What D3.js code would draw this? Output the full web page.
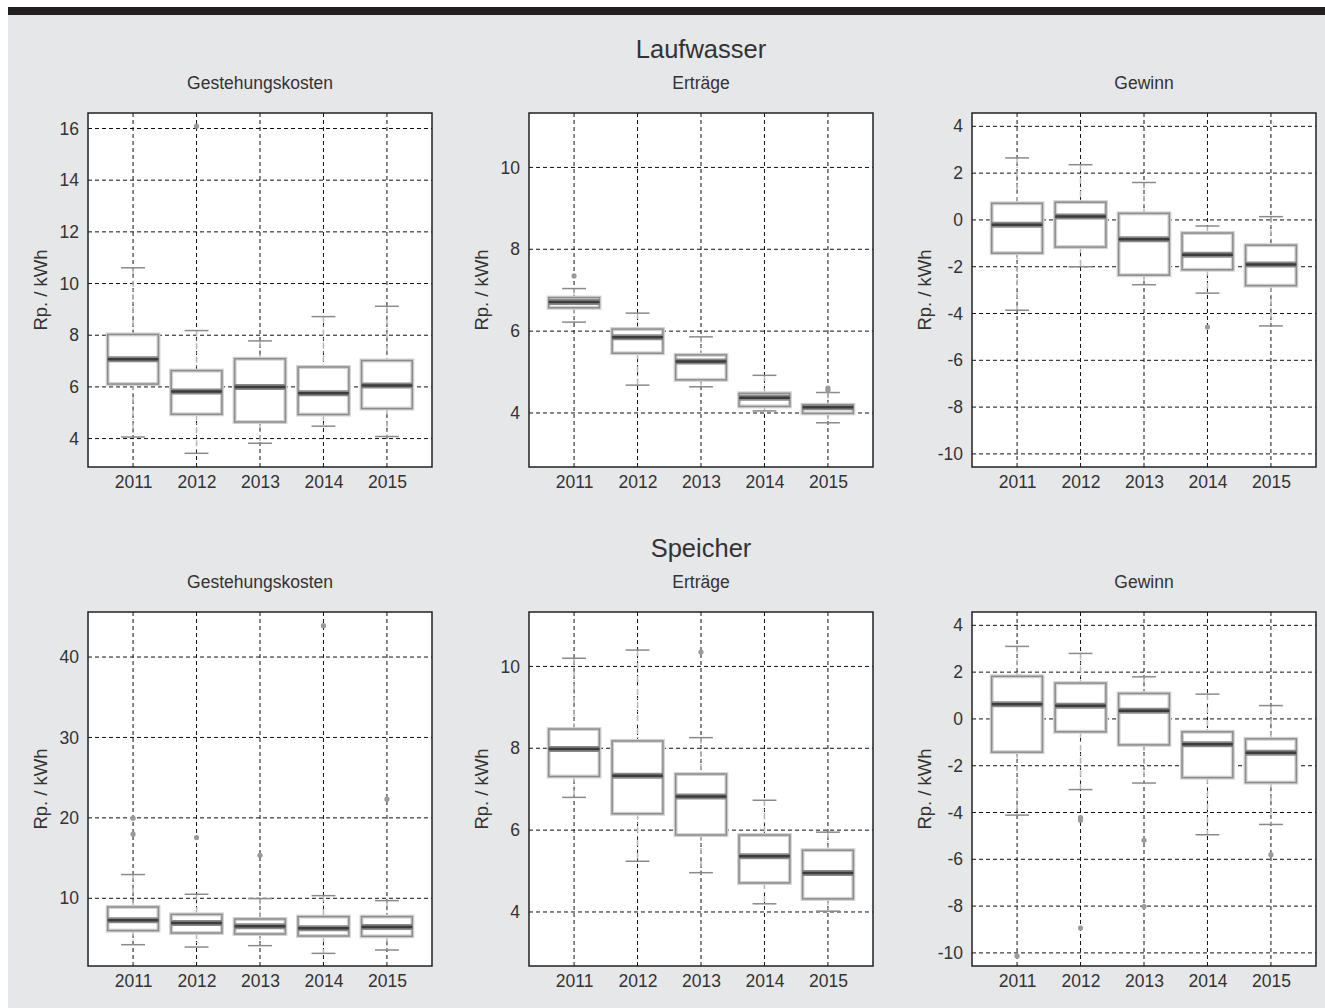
<!DOCTYPE html>
<html>
<head>
<meta charset="utf-8">
<script src="https://cdn.jsdelivr.net/npm/d3@7"></script>
<style>
  body { margin: 0; background: #fff; }
  svg text { font-family: "Liberation Sans", Arial, sans-serif; fill: #333; }
</style>
</head>
<body>
<div id="chart"></div>
<script>
const years = ['2011', '2012', '2013', '2014', '2015'];

// [lower whisker, q1, median, q3, upper whisker]
const laufKosten = [[4.06, 6.11, 7.07, 8.03, 10.61], [3.43, 4.94, 5.82, 6.63, 8.18], [3.82, 4.64, 6.0, 7.09, 7.78], [4.48, 4.93, 5.75, 6.77, 8.72], [4.08, 5.16, 6.05, 7.02, 9.12]];
const laufKostenOut = [[], [16.09], [], [], []];
const laufErtrag = [[6.22, 6.57, 6.71, 6.82, 7.04], [4.68, 5.46, 5.85, 6.05, 6.44], [4.64, 4.81, 5.26, 5.42, 5.86], [4.05, 4.16, 4.37, 4.48, 4.92], [3.76, 3.99, 4.14, 4.20, 4.50]];
const laufErtragOut = [[7.35], [], [], [], [4.61, 4.55]];
const laufGewinn = [[-3.86, -1.42, -0.21, 0.71, 2.65], [-2.0, -1.16, 0.15, 0.76, 2.36], [-2.77, -2.36, -0.83, 0.28, 1.60], [-3.13, -2.13, -1.49, -0.56, -0.26], [-4.53, -2.81, -1.90, -1.08, 0.14]];
const laufGewinnOut = [[], [], [], [-4.58], []];

const speichKosten = [[4.23, 5.98, 7.26, 8.92, 12.95], [3.94, 5.68, 6.93, 8.0, 10.5], [4.11, 5.56, 6.51, 7.43, 9.96], [3.15, 5.31, 6.27, 7.72, 10.33], [3.57, 5.27, 6.43, 7.72, 9.71]];
const speichKostenOut = [[19.96, 17.97], [17.55], [15.35], [43.9], [22.32]];
const speichErtrag = [[6.80, 7.31, 7.98, 8.47, 10.20], [5.24, 6.40, 7.33, 8.18, 10.40], [4.96, 5.88, 6.82, 7.37, 8.26], [4.20, 4.71, 5.36, 5.88, 6.73], [4.02, 4.32, 4.95, 5.51, 5.95]];
const speichErtragOut = [[], [], [10.35], [], []];
const speichGewinn = [[-4.11, -1.42, 0.63, 1.82, 3.10], [-3.02, -0.55, 0.56, 1.53, 2.80], [-2.74, -1.11, 0.35, 1.09, 1.80], [-4.95, -2.51, -1.08, -0.55, 1.06], [-4.51, -2.72, -1.45, -0.85, 0.57]];
const speichGewinnOut = [[-10.13], [-4.22, -4.33, -8.94], [-5.19, -8.02], [], [-5.80]];

const groupTitles = ['Laufwasser', 'Speicher'];
const panelTitles = ['Gestehungskosten', 'Erträge', 'Gewinn'];
const yLabel = 'Rp. / kWh';

const domKosten1 = [2.9, 16.6], ticksKosten1 = [4, 6, 8, 10, 12, 14, 16];
const domErtrag = [2.68, 11.33], ticksErtrag = [4, 6, 8, 10];
const domGewinn = [-10.56, 4.57], ticksGewinn = [-10, -8, -6, -4, -2, 0, 2, 4];
const domKosten2 = [1.58, 45.6], ticksKosten2 = [10, 20, 30, 40];

const panels = [
    {row: 0, col: 0, stats: laufKosten, out: laufKostenOut, dom: domKosten1, ticks: ticksKosten1},
    {row: 0, col: 1, stats: laufErtrag, out: laufErtragOut, dom: domErtrag, ticks: ticksErtrag},
    {row: 0, col: 2, stats: laufGewinn, out: laufGewinnOut, dom: domGewinn, ticks: ticksGewinn},
    {row: 1, col: 0, stats: speichKosten, out: speichKostenOut, dom: domKosten2, ticks: ticksKosten2},
    {row: 1, col: 1, stats: speichErtrag, out: speichErtragOut, dom: domErtrag, ticks: ticksErtrag},
    {row: 1, col: 2, stats: speichGewinn, out: speichGewinnOut, dom: domGewinn, ticks: ticksGewinn},
];

const width = 1325, height = 1008;
const colX = [88, 529, 972];
const rowY = [113, 612];
const pw = 344, ph = 354;

const svg = d3.select("#chart").append("svg")
    .attr("width", width)
    .attr("height", height);

svg.append("rect").attr("x", 0).attr("y", 0).attr("width", width).attr("height", height).attr("fill", "#fff");
svg.append("rect").attr("x", 8).attr("y", 15).attr("width", width - 8).attr("height", height - 15).attr("fill", "#e6e7e8");
svg.append("rect").attr("x", 8).attr("y", 7).attr("width", width - 8).attr("height", 8).attr("fill", "#231f20");

groupTitles.forEach((t, i) => {
    svg.append("text")
        .attr("x", colX[1] + pw / 2)
        .attr("y", rowY[i] - 55)
        .attr("text-anchor", "middle")
        .style("font-size", "25.5px")
        .text(t);
});

panels.forEach(p => {
    const x0 = colX[p.col], y0 = rowY[p.row];
    const g = svg.append("g").attr("transform", `translate(${x0},${y0})`);

    const x = d3.scalePoint().domain(years).range([0, pw]).padding(0.71);
    const y = d3.scaleLinear().domain(p.dom).range([ph, 0]);

    svg.append("text")
        .attr("x", x0 + pw / 2)
        .attr("y", y0 - 24)
        .attr("text-anchor", "middle")
        .style("font-size", "17.5px")
        .text(panelTitles[p.col]);

    g.append("rect")
        .attr("width", pw).attr("height", ph)
        .attr("fill", "#fff");

    // grid
    g.append("g").selectAll("line.hg")
        .data(p.ticks)
        .join("line")
            .attr("x1", 0).attr("x2", pw)
            .attr("y1", d => y(d)).attr("y2", d => y(d))
            .attr("stroke", "#111").attr("stroke-width", 1)
            .attr("stroke-dasharray", "4,3");
    g.append("g").selectAll("line.vg")
        .data(years)
        .join("line")
            .attr("x1", d => x(d)).attr("x2", d => x(d))
            .attr("y1", 0).attr("y2", ph)
            .attr("stroke", "#111").attr("stroke-width", 1)
            .attr("stroke-dasharray", "4,3");

    // axes
    const yAxis = g.append("g")
        .call(d3.axisLeft(y).tickValues(p.ticks).tickSize(0).tickPadding(9).tickFormat(d => String(d)));
    yAxis.select(".domain").remove();
    yAxis.selectAll("text").style("font-size", "17.5px").attr("fill", "#333");

    const xAxis = g.append("g")
        .attr("transform", `translate(0,${ph})`)
        .call(d3.axisBottom(x).tickSize(0).tickPadding(9));
    xAxis.select(".domain").remove();
    xAxis.selectAll("text").style("font-size", "17.5px").attr("fill", "#333");

    g.append("text")
        .attr("transform", `translate(-41,${ph / 2}) rotate(-90)`)
        .attr("text-anchor", "middle")
        .style("font-size", "18.5px")
        .text(yLabel);

    const bw = x.step() * 0.8;
    const cw = bw * 0.47;

    const box = g.append("g").selectAll("g")
        .data(p.stats.map((s, i) => ({year: years[i], s: s, out: p.out[i]})))
        .join("g");

    // whiskers
    box.append("line")
        .attr("x1", d => x(d.year)).attr("x2", d => x(d.year))
        .attr("y1", d => y(d.s[4])).attr("y2", d => y(d.s[3]))
        .attr("stroke", "#b8b8b8").attr("stroke-width", 1.5)
        .attr("stroke-dasharray", "6,3,1,3");
    box.append("line")
        .attr("x1", d => x(d.year)).attr("x2", d => x(d.year))
        .attr("y1", d => y(d.s[1])).attr("y2", d => y(d.s[0]))
        .attr("stroke", "#b8b8b8").attr("stroke-width", 1.5)
        .attr("stroke-dasharray", "6,3,1,3");
    [0, 4].forEach(k => {
        box.append("line")
            .attr("x1", d => x(d.year) - cw / 2).attr("x2", d => x(d.year) + cw / 2)
            .attr("y1", d => y(d.s[k])).attr("y2", d => y(d.s[k]))
            .attr("stroke", "#8a8a8a").attr("stroke-width", 1.5);
    });

    // boxes
    box.append("rect")
        .attr("x", d => x(d.year) - bw / 2)
        .attr("y", d => y(d.s[3]))
        .attr("width", bw)
        .attr("height", d => y(d.s[1]) - y(d.s[3]))
        .attr("fill", "#fff")
        .attr("stroke", "#d2d2d2").attr("stroke-width", 4);
    box.append("rect")
        .attr("x", d => x(d.year) - bw / 2)
        .attr("y", d => y(d.s[3]))
        .attr("width", bw)
        .attr("height", d => y(d.s[1]) - y(d.s[3]))
        .attr("fill", "none")
        .attr("stroke", "#8c8c8c").attr("stroke-width", 1.5);

    // median
    box.append("line")
        .attr("x1", d => x(d.year) - bw / 2).attr("x2", d => x(d.year) + bw / 2)
        .attr("y1", d => y(d.s[2])).attr("y2", d => y(d.s[2]))
        .attr("stroke", "#888").attr("stroke-width", 6);
    box.append("line")
        .attr("x1", d => x(d.year) - bw / 2).attr("x2", d => x(d.year) + bw / 2)
        .attr("y1", d => y(d.s[2])).attr("y2", d => y(d.s[2]))
        .attr("stroke", "#3c3c3c").attr("stroke-width", 2.5);

    // outliers
    box.selectAll("circle")
        .data(d => d.out.map(v => ({year: d.year, v: v})))
        .join("circle")
            .attr("cx", d => x(d.year))
            .attr("cy", d => y(d.v))
            .attr("r", 2.6)
            .attr("fill", "#9a9a9a");

    // frame
    g.append("rect")
        .attr("width", pw).attr("height", ph)
        .attr("fill", "none")
        .attr("stroke", "#222").attr("stroke-width", 1.5);
});
</script>
</body>
</html>
